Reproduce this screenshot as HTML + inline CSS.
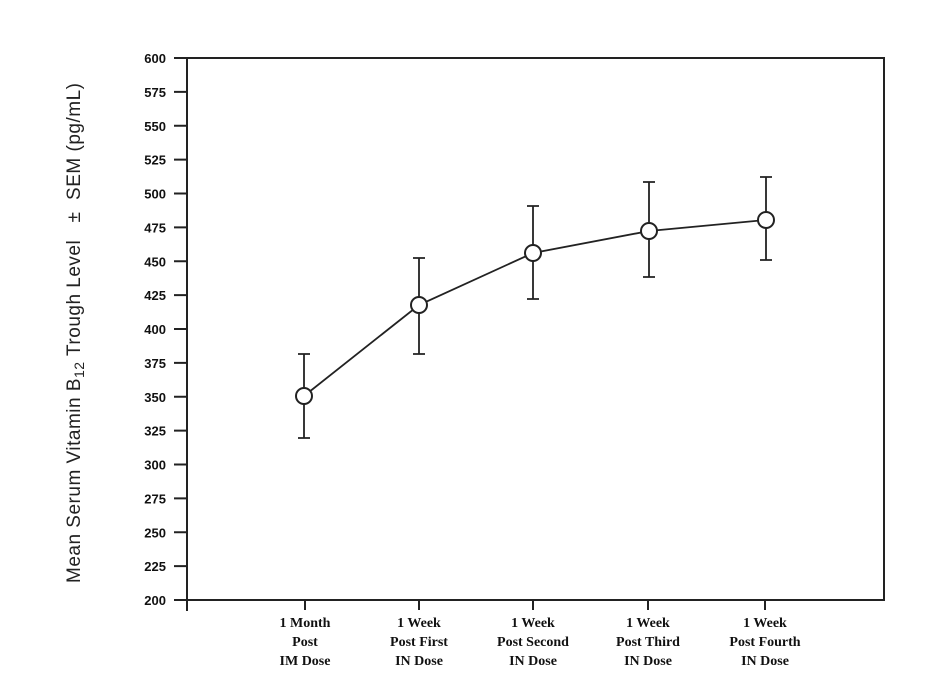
<!DOCTYPE html>
<html><head><style>body{margin:0;background:#fff}svg{display:block}</style></head><body>
<svg width="948" height="700" xmlns="http://www.w3.org/2000/svg">
<g stroke="#222" stroke-width="2" fill="none">
<polyline points="187,611 187,58 884,58 884,600 187,600"/>
</g>
<g stroke="#222" stroke-width="2" id="yt"></g>
<g font-family="Liberation Sans, sans-serif" font-weight="bold" font-size="13" text-anchor="end" fill="#111" id="yl"></g>
<g stroke="#222" stroke-width="2">
<line x1="305" y1="600" x2="305" y2="610"/><line x1="419" y1="600" x2="419" y2="610"/><line x1="533" y1="600" x2="533" y2="610"/><line x1="648" y1="600" x2="648" y2="610"/><line x1="765" y1="600" x2="765" y2="610"/>
</g>
<g font-family="Liberation Serif, serif" font-weight="bold" font-size="14" text-anchor="middle" fill="#111">
<text x="305" y="627">1 Month</text><text x="305" y="646">Post</text><text x="305" y="665">IM Dose</text>
<text x="419" y="627">1 Week</text><text x="419" y="646">Post First</text><text x="419" y="665">IN Dose</text>
<text x="533" y="627">1 Week</text><text x="533" y="646">Post Second</text><text x="533" y="665">IN Dose</text>
<text x="648" y="627">1 Week</text><text x="648" y="646">Post Third</text><text x="648" y="665">IN Dose</text>
<text x="765" y="627">1 Week</text><text x="765" y="646">Post Fourth</text><text x="765" y="665">IN Dose</text>
</g>
<text transform="translate(80,583) rotate(-90)" font-family="Liberation Sans, sans-serif" font-size="19" fill="#222" xml:space="preserve" letter-spacing="0.5">Mean Serum Vitamin B<tspan font-size="14" dy="4">12</tspan><tspan dy="-4"> Trough Level   ±  SEM (pg/mL)</tspan></text>
<g stroke="#222" stroke-width="1.8" fill="none">
<polyline points="304,396 419,305 533,253 649,231 766,220"/>
<path d="M304,354V438M298,354H310M298,438H310"/>
<path d="M419,258V354M413,258H425M413,354H425"/>
<path d="M533,206V299M527,206H539M527,299H539"/>
<path d="M649,182V277M643,182H655M643,277H655"/>
<path d="M766,177V260M760,177H772M760,260H772"/>
</g>
<g stroke="#222" stroke-width="2" fill="#fff">
<circle cx="304" cy="396" r="8"/><circle cx="419" cy="305" r="8"/><circle cx="533" cy="253" r="8"/><circle cx="649" cy="231" r="8"/><circle cx="766" cy="220" r="8"/>
</g>
<script>
var t=document.getElementById('yt'),l=document.getElementById('yl'),ns='http://www.w3.org/2000/svg';
for(var v=200;v<=600;v+=25){var y=600-(v-200)*542/400;
var ln=document.createElementNS(ns,'line');ln.setAttribute('x1',174);ln.setAttribute('x2',187);ln.setAttribute('y1',y);ln.setAttribute('y2',y);t.appendChild(ln);
var tx=document.createElementNS(ns,'text');tx.setAttribute('x',166);tx.setAttribute('y',y+5);tx.textContent=v;l.appendChild(tx);}
</script>
</svg>
</body></html>
